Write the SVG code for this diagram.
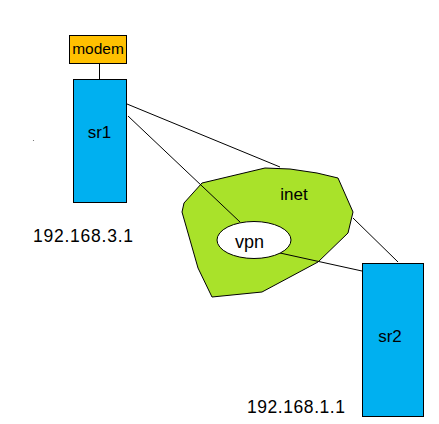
<svg xmlns="http://www.w3.org/2000/svg" width="439" height="424" viewBox="0 0 439 424">
<style>
.box{stroke:#000;stroke-width:1}
.lbl{font-family:"Liberation Sans",Arial,sans-serif;fill:#000;text-anchor:middle}
.conn line{stroke:#000;stroke-width:1}
</style>
<rect width="439" height="424" fill="#fff"/>
<g id="modem">
<rect class="box" x="69.5" y="35.5" width="57" height="28" fill="#FFC000"/>
<text class="lbl" x="98" y="54" font-size="15.5">modem</text>
</g>
<g id="sr1">
<rect class="box" x="73.5" y="79.5" width="53" height="123" fill="#00B0F0"/>
<text class="lbl" x="99.5" y="138" font-size="17">sr1</text>
</g>
<g id="sr2">
<rect class="box" x="362.5" y="263.5" width="61" height="153" fill="#00B0F0"/>
<text class="lbl" x="390" y="342" font-size="17">sr2</text>
</g>
<g id="inet">
<polygon class="box" points="202,183 265,168 290,169 317,173 338,178 353,212 348,233 318,262 262,292 212,297 198,268 182,212 184,203" fill="#A9E22A"/>
<text class="lbl" x="294" y="200" font-size="17">inet</text>
</g>
<g class="conn" id="connectors">
<line x1="99.5" y1="63" x2="99.5" y2="79"/>
<line x1="127" y1="104" x2="280" y2="167"/>
<line x1="353" y1="218" x2="398" y2="262"/>
<line x1="128" y1="116" x2="240" y2="222"/>
<line x1="280" y1="253" x2="362" y2="271"/>
</g>
<g id="vpn">
<ellipse class="box" cx="254" cy="240" rx="37" ry="18.5" fill="#fff"/>
<text class="lbl" x="249.5" y="248" font-size="18">vpn</text>
</g>
<g id="ip1">
<text class="lbl" x="83" y="242" font-size="17.5" textLength="100">192.168.3.1</text>
</g>
<g id="ip2">
<text class="lbl" x="296" y="413" font-size="17.5" textLength="98">192.168.1.1</text>
</g>
<circle cx="33.5" cy="140.5" r="0.6" fill="#666"/>
</svg>
